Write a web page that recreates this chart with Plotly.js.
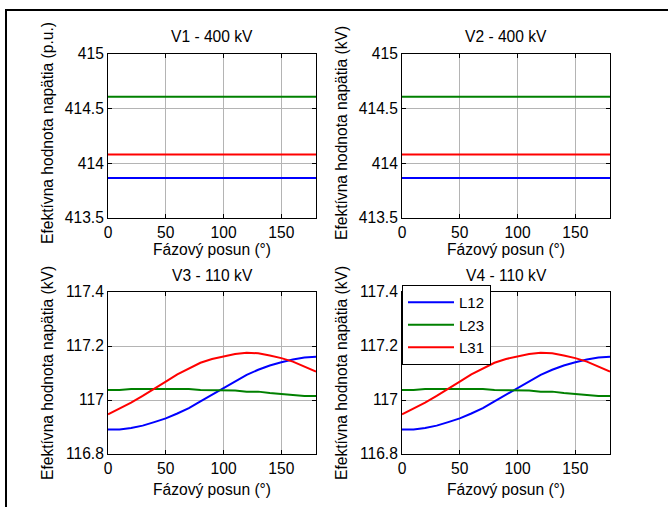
<!DOCTYPE html>
<html>
<head>
<meta charset="utf-8">
<script src="https://cdn.plot.ly/plotly-3.0.1.min.js"></script>
<style>html,body{margin:0;padding:0;background:#fff;}#chart{width:668px;height:507px;}</style>
</head>
<body>
<div id="chart"></div>
<script>
// Phase shift (degrees)
const phase = [0,10,20,30,40,50,60,70,80,90,100,110,120,130,140,150,160,170,180];
const seriesNames = ['L12','L23','L31'];
const seriesColors = ['#0000ff','#008000','#ff0000'];

// 400 kV buses (constant over phase shift)
const v1_L12 = 413.865, v1_L23 = 414.61, v1_L31 = 414.08;
const v2_L12 = 413.865, v2_L23 = 414.61, v2_L31 = 414.08;

// 110 kV buses
const v3_L12 = [116.891,116.891,116.896,116.905,116.918,116.932,116.950,116.970,116.995,117.020,117.045,117.070,117.093,117.112,117.128,117.140,117.150,117.157,117.160];
const v3_L23 = [117.037,117.037,117.041,117.041,117.041,117.041,117.041,117.041,117.037,117.037,117.037,117.035,117.031,117.031,117.026,117.022,117.020,117.015,117.015];
const v3_L31 = [116.947,116.968,116.990,117.015,117.040,117.068,117.095,117.118,117.138,117.152,117.162,117.170,117.175,117.173,117.165,117.155,117.142,117.125,117.105];
const v4_L12 = [116.891,116.891,116.896,116.905,116.918,116.932,116.950,116.970,116.995,117.020,117.045,117.070,117.093,117.112,117.128,117.140,117.150,117.157,117.160];
const v4_L23 = [117.037,117.037,117.041,117.041,117.041,117.041,117.041,117.041,117.037,117.037,117.037,117.035,117.031,117.031,117.026,117.022,117.020,117.015,117.015];
const v4_L31 = [116.947,116.968,116.990,117.015,117.040,117.068,117.095,117.118,117.138,117.152,117.162,117.170,117.175,117.173,117.165,117.155,117.142,117.125,117.105];

const xTicks = [0,50,100,150];
const yTicks400 = [413.5,414,414.5,415];
const yTicks110 = [116.8,117,117.2,117.4];
const titles = ['V1 - 400 kV','V2 - 400 kV','V3 - 110 kV','V4 - 110 kV'];
const yTitles = ['Efektívna hodnota napätia (p.u.)','Efektívna hodnota napätia (kV)','Efektívna hodnota napätia (kV)','Efektívna hodnota napätia (kV)'];
const xTitle = 'Fázový posun (°)';

const W = 668, H = 507;
const px = v => v / W;
const py = v => 1 - v / H;
const font = {family: 'Liberation Sans, Arial, sans-serif', size: 15.6, color: '#000'};
const legendFont = {family: 'Liberation Sans, Arial, sans-serif', size: 15, color: '#000'};

function constArr(v){ return phase.map(() => v); }
const panels = [
  {vals:[constArr(v1_L12),constArr(v1_L23),constArr(v1_L31)], xa:'x', ya:'y'},
  {vals:[constArr(v2_L12),constArr(v2_L23),constArr(v2_L31)], xa:'x2', ya:'y2'},
  {vals:[v3_L12,v3_L23,v3_L31], xa:'x3', ya:'y3'},
  {vals:[v4_L12,v4_L23,v4_L31], xa:'x4', ya:'y4'}
];
const traces = [];
panels.forEach((p, pi) => {
  p.vals.forEach((arr, si) => {
    traces.push({
      x: phase, y: arr, type: 'scatter', mode: 'lines',
      name: seriesNames[si], xaxis: p.xa, yaxis: p.ya,
      line: {color: seriesColors[si], width: 2},
      showlegend: pi === 3
    });
  });
});

function xax(dom, anchor){
  return {domain: dom, anchor: anchor, range: [0,180], tickvals: xTicks,
    showline: true, linecolor: '#000', linewidth: 1, mirror: 'ticks',
    ticks: 'inside', ticklen: 4, tickcolor: '#000', ticklabelstandoff: 0,
    showgrid: true, gridcolor: '#b4b4b4', gridwidth: 1, zeroline: false,
    tickfont: font, fixedrange: true};
}
function yax(dom, anchor, rng, tv){
  return {domain: dom, anchor: anchor, range: rng, tickvals: tv,
    showline: true, linecolor: '#000', linewidth: 1, mirror: 'ticks',
    ticks: 'inside', ticklen: 4, tickcolor: '#000',
    showgrid: true, gridcolor: '#b4b4b4', gridwidth: 1, zeroline: false,
    tickfont: font, fixedrange: true};
}
const xdL = [px(108), px(316)], xdR = [px(402), px(610)];
const ydT = [py(218), py(54)], ydB = [py(454), py(292)];

const centersX = [212, 506, 212, 506];
const titleY = [36, 36, 275, 275];
const xTitleY = [249, 249, 489, 489];
const yTitleX = [47, 341, 47, 341];
const yTitleY = [133, 133, 373, 373];
const annotations = [];
for (let i = 0; i < 4; i++) {
  annotations.push({text: titles[i], xref:'paper', yref:'paper', x: px(centersX[i]), y: py(titleY[i]), xanchor:'center', yanchor:'middle', showarrow:false, font: font});
  annotations.push({text: xTitle, xref:'paper', yref:'paper', x: px(centersX[i]), y: py(xTitleY[i]), xanchor:'center', yanchor:'middle', showarrow:false, font: font});
  annotations.push({text: yTitles[i], xref:'paper', yref:'paper', x: px(yTitleX[i]), y: py(yTitleY[i]), xanchor:'center', yanchor:'middle', textangle: -90, showarrow:false, font: font});
}

const layout = {
  width: W, height: H,
  margin: {l:0, r:0, t:0, b:0},
  paper_bgcolor: '#fff', plot_bgcolor: '#fff',
  font: font,
  xaxis: xax(xdL, 'y'), yaxis: yax(ydT, 'x', [413.5, 415], yTicks400),
  xaxis2: xax(xdR, 'y2'), yaxis2: yax(ydT, 'x2', [413.5, 415], yTicks400),
  xaxis3: xax(xdL, 'y3'), yaxis3: yax(ydB, 'x3', [116.8, 117.4], yTicks110),
  xaxis4: xax(xdR, 'y4'), yaxis4: yax(ydB, 'x4', [116.8, 117.4], yTicks110),
  legend: {x: px(402), y: py(285), xanchor: 'left', yanchor: 'top',
    bgcolor: '#fff', bordercolor: '#000', borderwidth: 1, font: legendFont,
    itemwidth: 46, tracegroupgap: 0},
  annotations: annotations,
  shapes: [{type:'rect', xref:'paper', yref:'paper', x0: px(6), x1: 1.02, y0: -0.02, y1: py(10),
    line: {color:'#000', width: 2}, fillcolor: 'rgba(0,0,0,0)'}]
};

Plotly.newPlot('chart', traces, layout, {displayModeBar: false, staticPlot: true});
</script>
</body>
</html>
